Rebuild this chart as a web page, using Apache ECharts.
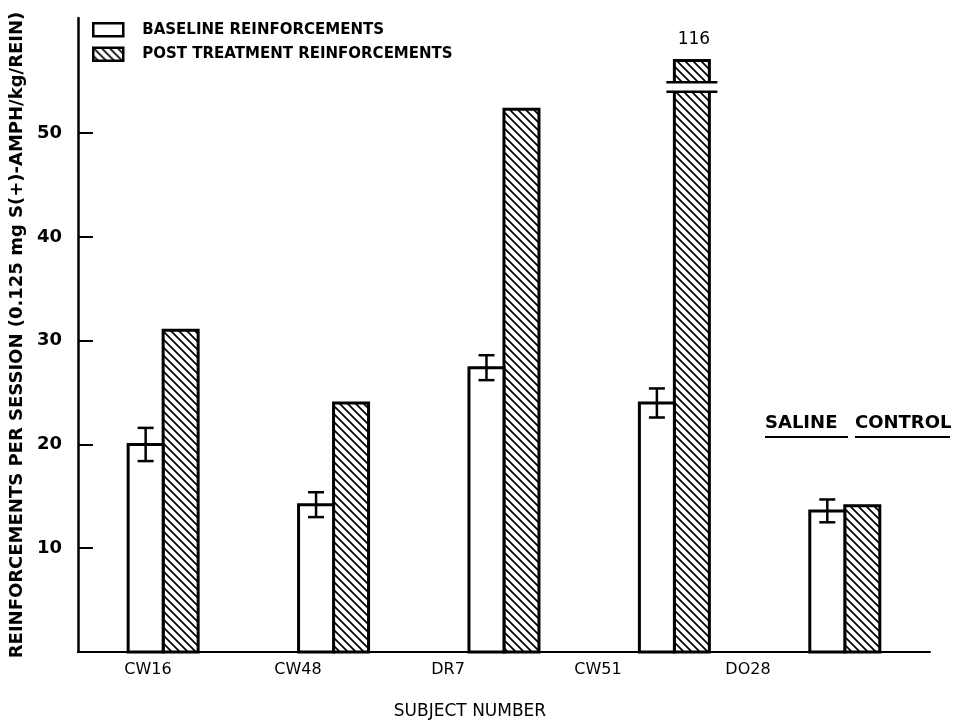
<!DOCTYPE html>
<html>
<head>
<meta charset="utf-8">
<script src="https://cdn.jsdelivr.net/npm/echarts@6/dist/echarts.min.js"></script>
<style>
  html, body { margin: 0; padding: 0; background: #fff; }
  #chart { width: 955px; height: 721px; }
</style>
</head>
<body>
<div id="chart"></div>
<script>
// Reinforcements per session, baseline vs. post treatment, by subject
const subjects = ['CW16', 'CW48', 'DR7', 'CW51', 'DO28'];
const baseline = [20.0, 14.2, 27.4, 24.0, 13.6];
const baselineErr = [1.6, 1.2, 1.2, 1.4, 1.1];
const postTreatment = [31.0, 24.0, 52.3, 116, 14.1];
const yTickValues = [10, 20, 30, 40, 50];

const BASE_NAME = 'BASELINE REINFORCEMENTS';
const POST_NAME = 'POST TREATMENT REINFORCEMENTS';

// Values above the top of the axis are drawn as a broken bar
const AXIS_MAX = 61.1;
const BREAK_CAP = 57.0;
const BREAK_HI = 54.9;
const BREAK_LO = 54.0;

const BAR_W = 35;
const FONT = '"DejaVu Sans", "Liberation Sans", sans-serif';

// Diagonal hatch fill for the post-treatment bars
function makeHatch() {
  const s = 8;
  const c = document.createElement('canvas');
  c.width = s; c.height = s;
  const g = c.getContext('2d');
  g.fillStyle = '#fff';
  g.fillRect(0, 0, s, s);
  g.strokeStyle = '#000';
  g.lineWidth = 1.7;
  g.beginPath();
  g.moveTo(-1, -1); g.lineTo(s + 1, s + 1);
  g.moveTo(-s - 1, -1); g.lineTo(1, s + 1);
  g.moveTo(s - 1, -1); g.lineTo(2 * s + 1, s + 1);
  g.stroke();
  return { image: c, repeat: 'repeat' };
}
const hatch = makeHatch();

const baseData = subjects.map((s, i) => [i, baseline[i], baselineErr[i]]);
const postData = subjects.map((s, i) => [i, postTreatment[i]]);

function renderBaseline(params, api) {
  const i = api.value(0);
  const v = api.value(1);
  const e = api.value(2);
  const p0 = api.coord([i, 0]);
  const pTop = api.coord([i, v]);
  const pHi = api.coord([i, v + e]);
  const pLo = api.coord([i, v - e]);
  const cx = p0[0];
  const ex = cx - BAR_W / 2;
  return {
    type: 'group',
    children: [
      {
        type: 'rect',
        shape: { x: cx - BAR_W, y: pTop[1], width: BAR_W, height: p0[1] - pTop[1] },
        style: { fill: '#fff', stroke: '#000', lineWidth: 3 }
      },
      { type: 'line', shape: { x1: ex, y1: pHi[1], x2: ex, y2: pLo[1] }, style: { stroke: '#000', lineWidth: 2.5 } },
      { type: 'line', shape: { x1: ex - 8, y1: pHi[1], x2: ex + 8, y2: pHi[1] }, style: { stroke: '#000', lineWidth: 2.5 } },
      { type: 'line', shape: { x1: ex - 8, y1: pLo[1], x2: ex + 8, y2: pLo[1] }, style: { stroke: '#000', lineWidth: 2.5 } }
    ]
  };
}

function renderPost(params, api) {
  const i = api.value(0);
  const v = api.value(1);
  const shown = Math.min(v, BREAK_CAP);
  const p0 = api.coord([i, 0]);
  const pTop = api.coord([i, shown]);
  const cx = p0[0];
  const children = [
    {
      type: 'rect',
      shape: { x: cx, y: pTop[1], width: BAR_W, height: p0[1] - pTop[1] },
      style: { fill: hatch, stroke: '#000', lineWidth: 3 }
    }
  ];
  if (v > BREAK_CAP) {
    const yHi = api.coord([i, BREAK_HI])[1];
    const yLo = api.coord([i, BREAK_LO])[1];
    children.push(
      { type: 'rect', shape: { x: cx - 2, y: yHi, width: BAR_W + 4, height: yLo - yHi }, style: { fill: '#fff' } },
      { type: 'line', shape: { x1: cx - 8, y1: yHi, x2: cx + BAR_W + 8, y2: yHi }, style: { stroke: '#000', lineWidth: 2.5 } },
      { type: 'line', shape: { x1: cx - 8, y1: yLo, x2: cx + BAR_W + 8, y2: yLo }, style: { stroke: '#000', lineWidth: 2.5 } },
      {
        type: 'text',
        style: {
          text: String(v), x: cx + BAR_W / 2 + 2, y: pTop[1] - 12,
          align: 'center', verticalAlign: 'bottom',
          font: '17px ' + FONT, fill: '#000'
        }
      }
    );
  }
  return { type: 'group', children };
}

const chart = echarts.init(document.getElementById('chart'), null, { renderer: 'canvas' });

chart.setOption({
  backgroundColor: '#fff',
  animation: false,
  legend: {
    orient: 'vertical',
    left: 92,
    top: 22,
    padding: 0,
    itemWidth: 30,
    itemHeight: 13,
    itemGap: 9,
    textStyle: { fontFamily: FONT, fontWeight: 'bold', fontSize: 15, color: '#000', padding: [0, 0, 0, 14] },
    data: [
      { name: BASE_NAME, icon: 'rect', itemStyle: { color: '#fff', borderColor: '#000', borderWidth: 2.5 } },
      { name: POST_NAME, icon: 'rect', itemStyle: { color: hatch, borderColor: '#000', borderWidth: 2.5 } }
    ]
  },
  grid: [
    { left: 75, right: 25, top: 18, bottom: 69, containLabel: false },
    { left: 73, width: 750, top: 18, bottom: 69, containLabel: false }
  ],
  xAxis: [
    {
      type: 'category',
      gridIndex: 0,
      data: subjects,
      axisLine: { lineStyle: { color: '#000', width: 2 } },
      axisTick: { show: false },
      axisLabel: { show: false },
      splitLine: { show: false }
    },
    {
      type: 'category',
      gridIndex: 1,
      data: subjects,
      axisLine: { show: false },
      axisTick: { show: false },
      axisLabel: { margin: 10, fontFamily: FONT, fontSize: 16, color: '#000' },
      splitLine: { show: false }
    }
  ],
  yAxis: [
    {
      type: 'value',
      gridIndex: 0,
      min: 0,
      max: AXIS_MAX,
      interval: 10,
      name: 'REINFORCEMENTS PER SESSION (0.125 mg S(+)-AMPH/kg/REIN)',
      nameLocation: 'middle',
      nameGap: 46,
      nameTextStyle: { fontFamily: FONT, fontWeight: 'bold', fontSize: 18, color: '#000' },
      axisLine: { show: true, lineStyle: { color: '#000', width: 2.5 } },
      axisTick: { show: true, inside: true, length: 15, customValues: yTickValues, lineStyle: { color: '#000', width: 2 } },
      axisLabel: { margin: 16, customValues: yTickValues, fontFamily: FONT, fontWeight: 'bold', fontSize: 18, color: '#000' },
      splitLine: { show: false }
    },
    { type: 'value', gridIndex: 1, show: false, min: 0, max: AXIS_MAX }
  ],
  series: [
    {
      name: BASE_NAME,
      type: 'custom',
      xAxisIndex: 0,
      yAxisIndex: 0,
      itemStyle: { color: '#fff', borderColor: '#000' },
      renderItem: renderBaseline,
      data: baseData,
      z: 3
    },
    {
      name: POST_NAME,
      type: 'custom',
      xAxisIndex: 0,
      yAxisIndex: 0,
      itemStyle: { color: hatch, borderColor: '#000' },
      renderItem: renderPost,
      data: postData,
      z: 2
    }
  ],
  graphic: [
    {
      type: 'text',
      style: { text: 'SUBJECT NUMBER', x: 470, y: 712, align: 'center', verticalAlign: 'middle', font: '17px ' + FONT, fill: '#000' }
    },
    {
      type: 'text',
      style: { text: 'SALINE', x: 765, y: 423, align: 'left', verticalAlign: 'middle', font: 'bold 18px ' + FONT, fill: '#000' }
    },
    {
      type: 'text',
      style: { text: 'CONTROL', x: 855, y: 423, align: 'left', verticalAlign: 'middle', font: 'bold 18px ' + FONT, fill: '#000' }
    },
    { type: 'line', shape: { x1: 765, y1: 437, x2: 848, y2: 437 }, style: { stroke: '#000', lineWidth: 2 } },
    { type: 'line', shape: { x1: 855, y1: 437, x2: 950, y2: 437 }, style: { stroke: '#000', lineWidth: 2 } }
  ]
});
</script>
</body>
</html>
